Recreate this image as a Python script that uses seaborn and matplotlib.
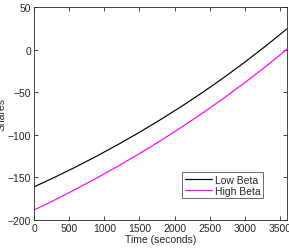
import numpy as np
import pandas as pd
import matplotlib
matplotlib.use("Agg")
import matplotlib.pyplot as plt
import seaborn as sns

# values
time_s = [0, 300, 600, 900, 1200, 1500, 1800, 2100, 2400, 2700, 3000, 3300, 3600]
low_beta = [-161.2, -149.6, -137.5, -124.7, -111.2, -97.1, -82.2, -66.6, -50.2, -32.9, -14.7, 4.4, 24.4]
high_beta = [-188.3, -176.3, -163.6, -150.4, -136.6, -122.1, -106.9, -91.1, -74.4, -57.0, -38.7, -19.6, 0.4]
x_ticks = [0, 500, 1000, 1500, 2000, 2500, 3000, 3500]
y_ticks = [-200, -150, -100, -50, 0, 50]

df = pd.DataFrame({
    "Time": time_s * 2,
    "Shares": low_beta + high_beta,
    "Series": ["Low Beta"] * len(time_s) + ["High Beta"] * len(time_s),
})

sns.set_style("ticks")
plt.rcParams["font.family"] = ["Liberation Sans", "DejaVu Sans"]

fig = plt.figure(figsize=(2.89, 2.51), dpi=100)
ax = fig.add_axes([34 / 289, 1 - 221 / 251, 253 / 289, 213 / 251])

sns.lineplot(data=df, x="Time", y="Shares", hue="Series",
             palette={"Low Beta": "black", "High Beta": "#ff00ff"},
             linewidth=0.85, ax=ax)

ax.set_xlim(0, 3600)
ax.set_ylim(-200, 50)
ax.set_xticks(x_ticks)
ax.set_yticks(y_ticks)
ax.tick_params(direction="in", length=3, width=0.6, top=True, right=True,
               labelsize=7.5, colors="#262626", pad=2)
for side in ax.spines.values():
    side.set_visible(True)
    side.set_linewidth(0.6)
    side.set_color("#262626")

ax.set_xlabel("Time (seconds)", fontsize=7.5, labelpad=1, color="#262626")
ax.set_ylabel("Shares", fontsize=7.5, color="#262626")
ax.yaxis.set_label_coords(-0.108, 0.5)

leg = ax.legend(loc="upper right", bbox_to_anchor=(0.905, 0.225), borderaxespad=0,
                fontsize=7.5, frameon=True, fancybox=False, handlelength=2.6,
                handletextpad=0.3, borderpad=0.25, labelspacing=0.1)
leg.get_frame().set_edgecolor("#262626")
leg.get_frame().set_linewidth(0.6)

fig.savefig("out.png", dpi=100)
